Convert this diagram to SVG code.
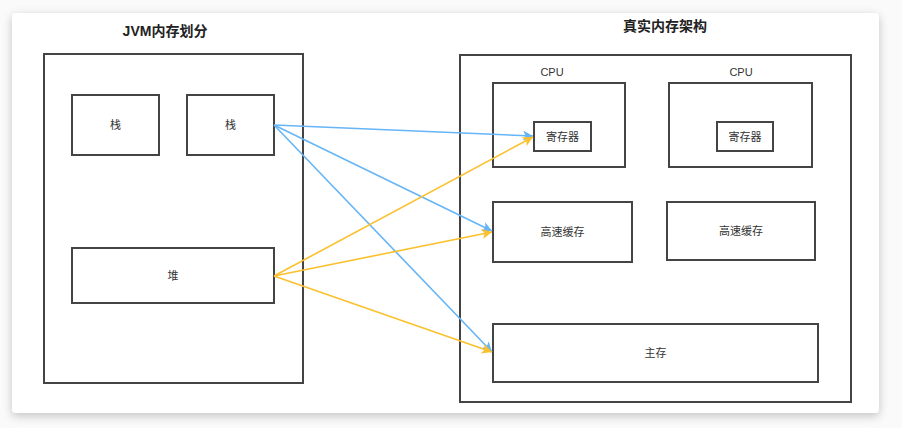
<svg xmlns="http://www.w3.org/2000/svg" width="902" height="428" viewBox="0 0 902 428">
<defs>
<filter id="sh" x="-5%" y="-10%" width="110%" height="125%">
<feDropShadow dx="0" dy="3" stdDeviation="5" flood-color="#000" flood-opacity="0.22"/>
</filter>
<marker id="ab" viewBox="0 0 10 10" refX="10" refY="5" markerWidth="10" markerHeight="10" markerUnits="userSpaceOnUse" orient="auto">
<path d="M0,0 L10,5 L0,10 L2.5,5 Z" fill="#66b5f6"/>
</marker>
<marker id="ay" viewBox="0 0 10 10" refX="10" refY="5" markerWidth="10" markerHeight="10" markerUnits="userSpaceOnUse" orient="auto">
<path d="M0,0 L10,5 L0,10 L2.5,5 Z" fill="#fbc02d"/>
</marker>
<style>
.b{fill:#fff;stroke:#444;stroke-width:2}
.t{font-family:"Liberation Sans","Noto Sans CJK SC",sans-serif;font-size:11px;fill:#333;text-anchor:middle;dominant-baseline:central}
.h{font-family:"Liberation Sans","Noto Sans CJK SC",sans-serif;font-size:14px;font-weight:bold;fill:#222;text-anchor:middle;dominant-baseline:central}
.cb{fill:none;stroke:#66b5f6;stroke-width:1.6;marker-end:url(#ab)}
.cy{fill:none;stroke:#fbc02d;stroke-width:1.6;marker-end:url(#ay)}
</style>
</defs>
<rect x="0" y="0" width="902" height="428" fill="#fafafa"/>
<rect x="12" y="13" width="867" height="400" rx="4" fill="#fff" filter="url(#sh)"/>
<g id="jvm">
<text class="h" x="165" y="31">JVM内存划分</text>
<rect class="b" x="44" y="54" width="259" height="329"/>
</g>
<g id="stack1"><rect class="b" x="72" y="95" width="87" height="60"/><text class="t" x="115.5" y="125">栈</text></g>
<g id="stack2"><rect class="b" x="187" y="95" width="87" height="60"/><text class="t" x="230.5" y="125">栈</text></g>
<g id="heap"><rect class="b" x="72" y="248" width="202" height="55"/><text class="t" x="173" y="275.5">堆</text></g>
<g id="real">
<text class="h" x="665" y="26">真实内存架构</text>
<rect class="b" x="460" y="55" width="391" height="347"/>
</g>
<g id="cpu1"><text class="t" x="552" y="72">CPU</text><rect class="b" x="493" y="83" width="132" height="84"/></g>
<g id="reg1"><rect class="b" x="534" y="122" width="57" height="29"/><text class="t" x="562.5" y="136.5">寄存器</text></g>
<g id="cpu2"><text class="t" x="741" y="72">CPU</text><rect class="b" x="669" y="83" width="143" height="84"/></g>
<g id="reg2"><rect class="b" x="717" y="122" width="56" height="29"/><text class="t" x="745" y="136.5">寄存器</text></g>
<g id="cache1"><rect class="b" x="493" y="202" width="139" height="60"/><text class="t" x="562.5" y="232">高速缓存</text></g>
<g id="cache2"><rect class="b" x="667" y="202" width="148" height="58"/><text class="t" x="741" y="231">高速缓存</text></g>
<g id="mem"><rect class="b" x="493" y="324" width="325" height="58"/><text class="t" x="655.5" y="353">主存</text></g>
<g id="connectors">
<line class="cb" x1="274" y1="125" x2="533" y2="136"/>
<line class="cb" x1="274" y1="125" x2="492" y2="231"/>
<line class="cb" x1="274" y1="125" x2="492" y2="352"/>
<line class="cy" x1="274" y1="276" x2="533" y2="137"/>
<line class="cy" x1="274" y1="276" x2="492" y2="232"/>
<line class="cy" x1="274" y1="276" x2="492" y2="352"/>
</g>
</svg>
